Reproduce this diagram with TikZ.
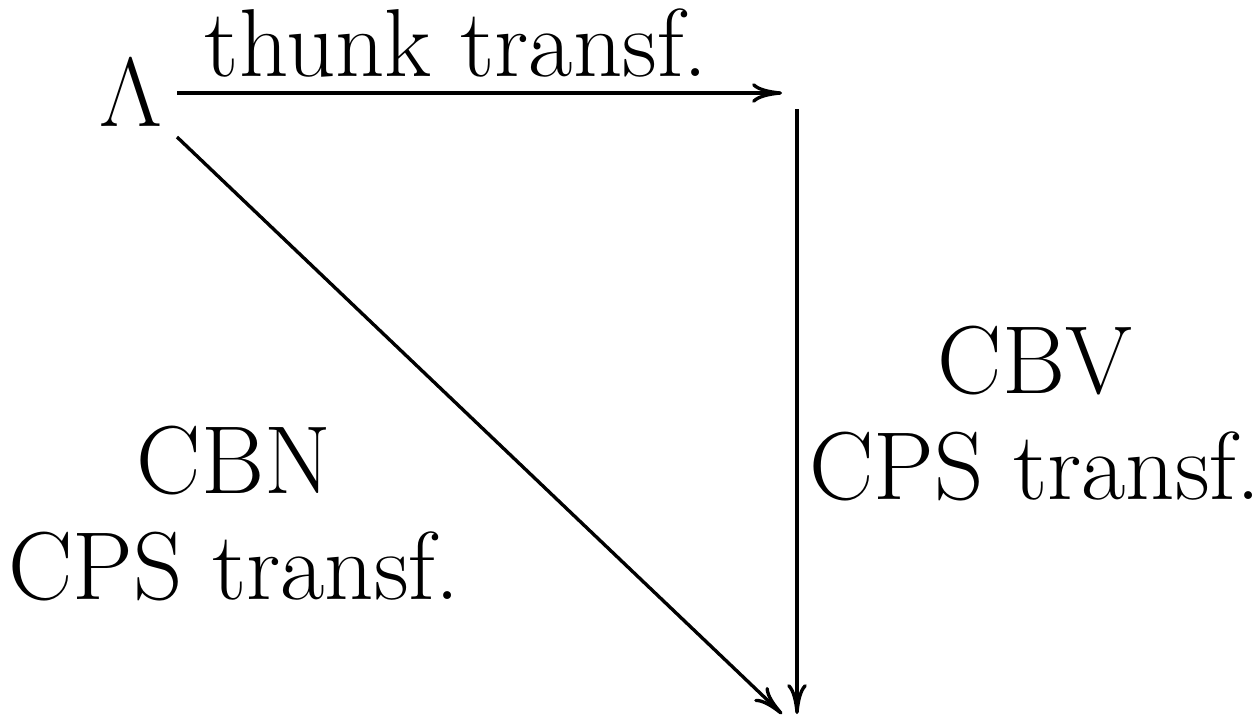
\documentclass[tikz,border=0pt]{standalone}
\usetikzlibrary{arrows.meta}
\tikzset{
  lbl/.style={inner sep=0pt, anchor=base, align=center, font=\fontsize{24.5pt}{26.9pt}\selectfont},
  arr/.style={line width=0.85pt, -{Computer Modern Rightarrow[length=7.6pt,width=5pt]}}
}
\begin{document}
\begin{tikzpicture}[x=0.2538pt,y=-0.2538pt]
\useasboundingbox (0,0) rectangle (1260,715);
\node[lbl] (L) at (131,126) {$\Lambda$};
\coordinate (Ls) at (177,93);
\coordinate (Ld) at (177,137);
\coordinate (TR) at (782,93);
\coordinate (TRt) at (797,109);
\coordinate (BR) at (797,714);
\coordinate (BRd) at (782,714);
\draw[arr] (Ls) -- (TR);
\draw[arr] (TRt) -- (BR);
\draw[arr] (Ld) -- (BRd);
\node[lbl] (thunk) at (456.5,76) {thunk transf.};
\node[lbl] (cbv) at (1035,499) {CBV\\CPS transf.};
\node[lbl] (cbn) at (234,599) {CBN\\CPS transf.};
\end{tikzpicture}
\end{document}
